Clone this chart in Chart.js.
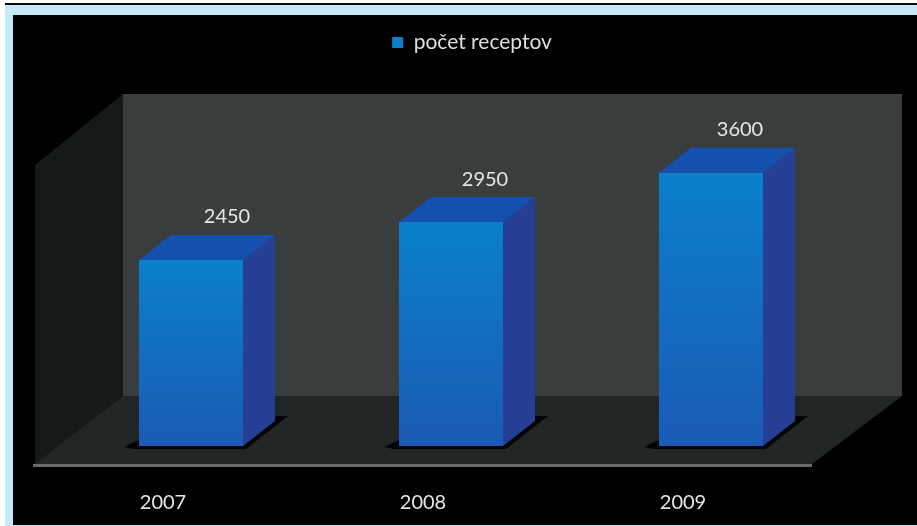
<!DOCTYPE html>
<html>
<head>
<meta charset="utf-8">
<title>počet receptov</title>
<script src="https://cdn.jsdelivr.net/npm/chart.js@4/dist/chart.umd.min.js"></script>
<style>
    html, body { margin: 0; padding: 0; background: #fff; }
    #wrap { position: absolute; left: 0; top: 0; width: 917px; height: 526px; overflow: hidden; }
    #graf { filter: blur(0.6px); }
</style>
</head>
<body>
<div id="wrap"><canvas id="graf" width="917" height="526"></canvas></div>
<script>
    const categories = ['2007', '2008', '2009'];
    const seriesName = 'počet receptov';
    const recepty = [2450, 2950, 3600];

    const FONT = 'Lato';
    const DEPTH_X = 32, DEPTH_Y = 25;

    const poly = (ctx, color, pts) => {
        ctx.fillStyle = color;
        ctx.beginPath();
        pts.forEach((p, i) => i ? ctx.lineTo(p[0], p[1]) : ctx.moveTo(p[0], p[1]));
        ctx.closePath();
        ctx.fill();
    };

    // Ram, zadna stena a podlaha
    const scenePlugin = {
        id: 'scene',
        beforeDraw(chart) {
            const ctx = chart.ctx;
            ctx.save();
            ctx.fillStyle = '#ffffff';
            ctx.fillRect(0, 0, 917, 526);
            ctx.fillStyle = '#0a0a0a';
            ctx.fillRect(5, 3, 912, 2);
            ctx.fillStyle = '#c6e9fa';
            ctx.fillRect(5, 5, 912, 521);
            ctx.fillStyle = '#000000';
            ctx.fillRect(13, 15, 904, 510);

            poly(ctx, '#151919', [[35, 165], [123, 94], [123, 396], [35, 465]]);
            poly(ctx, '#3a3d3e', [[123, 94], [902, 94], [902, 396], [123, 396]]);
            poly(ctx, '#212525', [[123, 396], [902, 396], [812, 464], [35, 464]]);
            ctx.fillStyle = '#696b6b';
            ctx.fillRect(33, 464, 779, 3);
            ctx.restore();
        },
        // Tiene pod stlpcami, kreslia sa este pod stlpce
        beforeDatasetsDraw(chart) {
            const ctx = chart.ctx;
            chart.getDatasetMeta(0).data.forEach((bar) => {
                const left = bar.x - bar.width / 2, right = bar.x + bar.width / 2, base = bar.base;
                poly(ctx, '#030405', [
                    [left - 15, base + 1], [left, base - 6], [right + DEPTH_X, base - DEPTH_Y - 5],
                    [right + DEPTH_X + 13, base - DEPTH_Y - 5], [right + 3, base + 3], [left - 5, base + 3]
                ]);
            });
        }
    };

    // Bocna a horna stena stlpca + hodnoty
    const bar3dPlugin = {
        id: 'bar3d',
        afterDatasetsDraw(chart) {
            const ctx = chart.ctx;
            const shiftX = [36, 34, 29];
            chart.getDatasetMeta(0).data.forEach((bar, i) => {
                const left = bar.x - bar.width / 2, right = bar.x + bar.width / 2;
                const top = bar.y, base = bar.base;
                poly(ctx, '#253f95', [[right, top], [right + DEPTH_X, top - DEPTH_Y], [right + DEPTH_X, base - DEPTH_Y], [right, base]]);
                poly(ctx, '#1450ae', [[left, top], [left + DEPTH_X, top - DEPTH_Y], [right + DEPTH_X, top - DEPTH_Y], [right, top]]);
                ctx.save();
                ctx.fillStyle = '#e6e6e6';
                ctx.font = '20px ' + FONT;
                ctx.textAlign = 'center';
                ctx.textBaseline = 'middle';
                ctx.fillText(String(recepty[i]), bar.x + shiftX[i], top - 43);
                ctx.restore();
            });
        }
    };

    // Fixna vyska legendy, aby zakladna grafu sedela; legenda je posunuta doprava
    const legendHeightPlugin = {
        id: 'legendHeight',
        beforeInit(chart) {
            const fit = chart.legend.fit;
            chart.legend.fit = function () {
                fit.call(this);
                this.height = 110.4;
            };
        },
        afterLayout(chart) {
            chart.legend.left += 21;
            chart.legend.right += 21;
        }
    };

    const barFill = (c) => {
        const y = c.chart.scales && c.chart.scales.y;
        const top = y ? y.getPixelForValue(c.raw) : NaN;
        const bottom = y ? y.getPixelForValue(0) : NaN;
        if (!isFinite(top) || !isFinite(bottom)) return '#1b86d6';
        const g = c.chart.ctx.createLinearGradient(0, top, 0, bottom);
        g.addColorStop(0, '#0a80cc');
        g.addColorStop(1, '#1a5ab4');
        return g;
    };

    new Chart(document.getElementById('graf'), {
        type: 'bar',
        data: {
            labels: categories,
            datasets: [{
                label: seriesName,
                data: recepty,
                backgroundColor: barFill,
                borderWidth: 0,
                barPercentage: 0.4,
                categoryPercentage: 1
            }]
        },
        plugins: [legendHeightPlugin, scenePlugin, bar3dPlugin],
        options: {
            responsive: false,
            animation: false,
            layout: { padding: { left: 61, right: 76, top: 32, bottom: 0 } },
            plugins: {
                tooltip: { enabled: false },
                legend: {
                    position: 'top',
                    labels: { color: '#dedede', boxWidth: 11, boxHeight: 11, padding: 0, font: { family: FONT, size: 21 } }
                }
            },
            scales: {
                x: {
                    grid: { display: false },
                    border: { display: false },
                    afterFit: (s) => { s.height = 80; },
                    ticks: { color: '#e6e6e6', labelOffset: -28, padding: 37, font: { family: FONT, size: 20 } }
                },
                y: { display: false, min: 0, max: 4000 }
            }
        }
    });
</script>
</body>
</html>
